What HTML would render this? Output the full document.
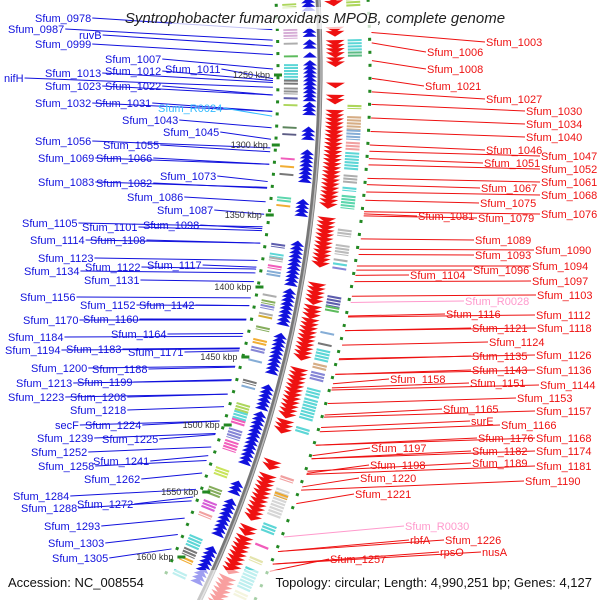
<!DOCTYPE html>
<html><head><meta charset="utf-8"><style>
html,body{margin:0;padding:0;background:#fff;}
svg{display:block;font-family:"Liberation Sans",sans-serif;}
</style></head><body>
<svg id="map" width="600" height="600" viewBox="0 0 600 600" xmlns="http://www.w3.org/2000/svg">
<g id="tracks"></g>
<g id="lines"></g>
<g id="labels"></g>
<g id="kbp"></g>
<rect x="172" y="7" width="324" height="22" fill="#fff" opacity="0.75"/>
<text x="315" y="23" text-anchor="middle" font-size="15" font-style="italic" fill="#222">Syntrophobacter fumaroxidans MPOB, complete genome</text>
<rect x="0" y="570" width="600" height="30" fill="#fff" opacity="0.6"/>
<text x="8" y="587" font-size="13" fill="#111">Accession: NC_008554</text>
<text x="592" y="587" text-anchor="end" font-size="13" fill="#111">Topology: circular; Length: 4,990,251 bp; Genes: 4,127</text>
</svg>
<script>
const NS="http://www.w3.org/2000/svg";
const CX=-908, CY=70, R=1228;
const blueClusters=[[0,8],[30,37],[42,47],[55,58],[63,100],[105,113],[130,140],[153,182],[203,217],[245,285],[293,328],[338,367],[370,377],[390,413],[417,467],[487,497],[505,540],[553,587]];
const redClusters=[[0,6],[30,35],[43,58],[60,65],[85,88],[97,103],[112,207],[218,263],[283,300],[305,313],[318,357],[367,413],[418,427],[458,465],[472,512],[523,528],[533,565],[573,600]];
const innerBlocks=[[2,8,"#9c3"],[28,38,"#c9c"],[42,45,"#999"],[55,58,"#3a3"],[64,80,"#3cc"],[80,86,"#555"],[88,95,"#777"],[98,101,"#339"],[105,108,"#9c3"],[128,131,"#363"],[135,138,"#336"],[160,163,"#e3a"],[168,170,"#e90"],[176,178,"#555"],[200,206,"#3c9"],[208,210,"#e90"],[248,252,"#339"],[258,262,"#3cc"],[262,266,"#999"],[270,274,"#e3a"],[276,281,"#69c"],[300,303,"#999"],[306,310,"#693"],[311,315,"#66c"],[319,321,"#999"],[322,324,"#c90"],[333,337,"#693"],[346,352,"#e90"],[354,360,"#66c"],[367,370,"#69c"],[388,392,"#555"],[394,396,"#69c"],[412,420,"#9c3"],[420,428,"#3cc"],[428,434,"#e3a"],[438,448,"#66c"],[450,460,"#e3a"],[478,486,"#bd3"],[498,506,"#693"],[512,520,"#c3c"],[524,528,"#e88"],[548,560,"#3cc"],[561,568,"#555"],[570,574,"#e90"],[584,590,"#3cc"]];
const outerBlocks=[[0,8,"#9c3"],[40,52,"#3cc"],[52,57,"#3a6"],[104,108,"#9c3"],[115,128,"#c96"],[128,138,"#69c"],[140,148,"#e88"],[150,168,"#3cc"],[172,180,"#999"],[184,188,"#3cc"],[192,205,"#3c9"],[225,232,"#aaa"],[240,250,"#aaa"],[254,256,"#999"],[258,261,"#3cc"],[262,265,"#66c"],[290,300,"#339"],[300,306,"#3a3"],[325,328,"#69c"],[336,338,"#555"],[342,354,"#3cc"],[356,362,"#c96"],[364,372,"#66c"],[380,388,"#3cc"],[390,410,"#3cc"],[418,424,"#3cc"],[466,470,"#e88"],[478,505,"#ccc"],[482,486,"#e90"],[512,520,"#3cc"],[532,535,"#e3a"],[545,549,"#dd9"],[555,575,"#3cc"],[578,584,"#dd9"]];
const kbpLabels=["1250 kbp","1300 kbp","1350 kbp","1400 kbp","1450 kbp","1500 kbp","1550 kbp","1600 kbp"];
const kbpY=[75,145,215,287,357,425,492,557];
const leftLabels=[["Sfum_0978",35,18],["Sfum_0987",8,29],["ruvB",79,35],["Sfum_0999",35,44],["Sfum_1007",105,59],["nifH",4,78],["Sfum_1013",45,73],["Sfum_1012",105,71],["Sfum_1011",165,69],["Sfum_1023",45,86],["Sfum_1022",105,86],["Sfum_1032",35,103],["Sfum_1031",95,103],["Sfum_1043",122,120],["Sfum_1045",163,132],["Sfum_1056",35,141],["Sfum_1055",103,145],["Sfum_1069",38,158],["Sfum_1066",96,158],["Sfum_1073",160,176],["Sfum_1083",38,182],["Sfum_1082",96,183],["Sfum_1086",127,197],["Sfum_1087",157,210],["Sfum_1105",22,223],["Sfum_1098",143,225],["Sfum_1101",82,227],["Sfum_1114",30,240],["Sfum_1108",90,240],["Sfum_1123",38,258],["Sfum_1117",147,265],["Sfum_1122",85,267],["Sfum_1134",24,271],["Sfum_1131",84,280],["Sfum_1156",20,297],["Sfum_1152",80,305],["Sfum_1142",139,305],["Sfum_1170",23,320],["Sfum_1160",83,319],["Sfum_1164",111,334],["Sfum_1184",8,337],["Sfum_1194",5,350],["Sfum_1183",66,349],["Sfum_1171",128,352],["Sfum_1200",31,368],["Sfum_1188",92,369],["Sfum_1213",16,383],["Sfum_1199",77,382],["Sfum_1223",8,397],["Sfum_1208",70,397],["Sfum_1218",70,410],["secF",55,425],["Sfum_1224",85,425],["Sfum_1239",37,438],["Sfum_1225",102,439],["Sfum_1252",31,452],["Sfum_1241",93,461],["Sfum_1258",38,466],["Sfum_1262",84,479],["Sfum_1284",13,496],["Sfum_1272",77,504],["Sfum_1288",21,508],["Sfum_1293",44,526],["Sfum_1303",48,543],["Sfum_1305",52,558]];
const rightLabels=[["Sfum_1003",486,42],["Sfum_1006",427,52],["Sfum_1008",427,69],["Sfum_1021",425,86],["Sfum_1027",486,99],["Sfum_1030",526,111],["Sfum_1034",526,124],["Sfum_1040",526,137],["Sfum_1046",486,150],["Sfum_1047",541,156],["Sfum_1051",484,163],["Sfum_1052",541,169],["Sfum_1061",541,182],["Sfum_1067",481,188],["Sfum_1068",541,195],["Sfum_1075",480,203],["Sfum_1076",541,214],["Sfum_1081",418,216],["Sfum_1079",478,218],["Sfum_1089",475,240],["Sfum_1090",535,250],["Sfum_1093",475,255],["Sfum_1094",532,266],["Sfum_1096",473,270],["Sfum_1104",410,275],["Sfum_1097",532,281],["Sfum_1103",537,295],["Sfum_1116",446,314],["Sfum_1112",536,315],["Sfum_1121",472,328],["Sfum_1118",537,328],["Sfum_1124",489,342],["Sfum_1126",536,355],["Sfum_1135",472,356],["Sfum_1136",536,370],["Sfum_1143",472,370],["Sfum_1158",390,379],["Sfum_1151",470,383],["Sfum_1144",540,385],["Sfum_1153",517,398],["Sfum_1165",443,409],["Sfum_1157",536,411],["surE",471,421],["Sfum_1166",501,425],["Sfum_1176",478,438],["Sfum_1168",536,438],["Sfum_1197",371,448],["Sfum_1182",472,451],["Sfum_1174",536,451],["Sfum_1189",472,463],["Sfum_1198",370,465],["Sfum_1181",536,466],["Sfum_1220",360,478],["Sfum_1190",525,481],["Sfum_1221",355,494],["rbfA",410,540],["Sfum_1226",445,540],["rpsO",440,552],["nusA",482,552],["Sfum_1257",330,559]];
const rnaLabels=[["Sfum_R0024",158,108,"#3bf",-1],["Sfum_R0028",465,301,"#f9c",1],["Sfum_R0030",405,526,"#f9c",1]];

function pt(y,d){const s=Math.max(-1,Math.min(1,(y-CY)/R));const t=Math.asin(s);return [CX+(R+d)*Math.cos(t),CY+(R+d)*Math.sin(t),t];}
function mk(tag,attrs,parent){const e=document.createElementNS(NS,tag);for(const k in attrs)e.setAttribute(k,attrs[k]);parent.appendChild(e);return e;}
const tracks=document.getElementById('tracks'),lines=document.getElementById('lines'),labels=document.getElementById('labels'),kbp=document.getElementById('kbp');

let dpath="";for(let y=-5;y<=605;y+=5){const p=pt(y,0);dpath+=(y==-5?"M":"L")+p[0].toFixed(1)+","+p[1].toFixed(1);}
const bb=mk('path',{d:dpath,fill:'none',stroke:'#777','stroke-width':5},tracks);


const bb2=mk('path',{d:dpath,fill:'none',stroke:'#bbb','stroke-width':1.5,transform:'translate(1,0)'},tracks);



for(let y=3;y<600;y+=12.5){
 [-42,50].forEach(d=>{const p=pt(y,d);const t=p[2];
  const c=mk('rect',{x:p[0]-1.5,y:p[1]-1.5,width:3,height:3,fill:'#282',transform:`rotate(${t*180/Math.PI} ${p[0]} ${p[1]})`},tracks);
  
  });
}
function block(y1,y2,d1,d2,col,name){
 for(let y=y1;y<y2;y+=3){const ye=Math.min(y+2,y2);
 const a=pt(y,d1),b=pt(y,d2),c=pt(ye,d2),e=pt(ye,d1);
 const p=mk('polygon',{points:`${a[0]},${a[1]} ${b[0]},${b[1]} ${c[0]},${c[1]} ${e[0]},${e[1]}`,fill:col,opacity:0.8},tracks);
 
 }}
innerBlocks.forEach(b=>block(b[0],b[1],-36,-22,b[2],'inner-feature-block'));
outerBlocks.forEach(b=>block(b[0],b[1],28,42,b[2],'outer-feature-block'));
function arrow(y,d1,d2,col,dir,name){const a=pt(y+2.5*dir,d1),b=pt(y+2.5*dir,d2),m=pt(y-3*dir,(d1+d2)/2);
 const p=mk('polygon',{points:`${a[0]},${a[1]} ${b[0]},${b[1]} ${m[0]},${m[1]}`,fill:col},tracks);
 
 }
blueClusters.forEach(c=>{for(let y=c[0];y<=c[1];y+=4)arrow(y,-17,-3,'#11d',1,'forward-gene-arrow');});
redClusters.forEach(c=>{for(let y=c[0];y<=c[1];y+=4)arrow(y,6,25,'#e11',-1,'reverse-gene-arrow');});

kbpLabels.forEach((s,i)=>{const p=pt(kbpY[i],-50);
 const tk=mk('rect',{x:p[0]+4,y:kbpY[i]-1.5,width:8,height:3,fill:'#282'},kbp);
 
 
 const t=mk('text',{x:p[0],y:kbpY[i]+3,'text-anchor':'end','font-size':9,fill:'#333'},kbp);
 t.textContent=s;
 
 });

function addLabel(s,x,y,col,side){
 const t=mk('text',{x:x,y:y+4,'font-size':11,fill:col},labels);
 t.textContent=s;
 
 
 const w=t.getComputedTextLength();
 let l;
 if(side<0){const p=pt(y+10,-47);l=mk('line',{x1:x+w+1,y1:y,x2:p[0],y2:p[1],stroke:col,'stroke-width':1},lines);}
 else{const p=pt(y-8,52);l=mk('line',{x1:p[0],y1:p[1],x2:x-1,y2:y,stroke:col,'stroke-width':1},lines);}
 
 
}
leftLabels.forEach(a=>addLabel(a[0],a[1],a[2],'#11d',-1));
rightLabels.forEach(a=>addLabel(a[0],a[1],a[2],'#e11',1));
rnaLabels.forEach(a=>addLabel(a[0],a[1],a[2],a[3],a[4]));
</script>
</body></html>
